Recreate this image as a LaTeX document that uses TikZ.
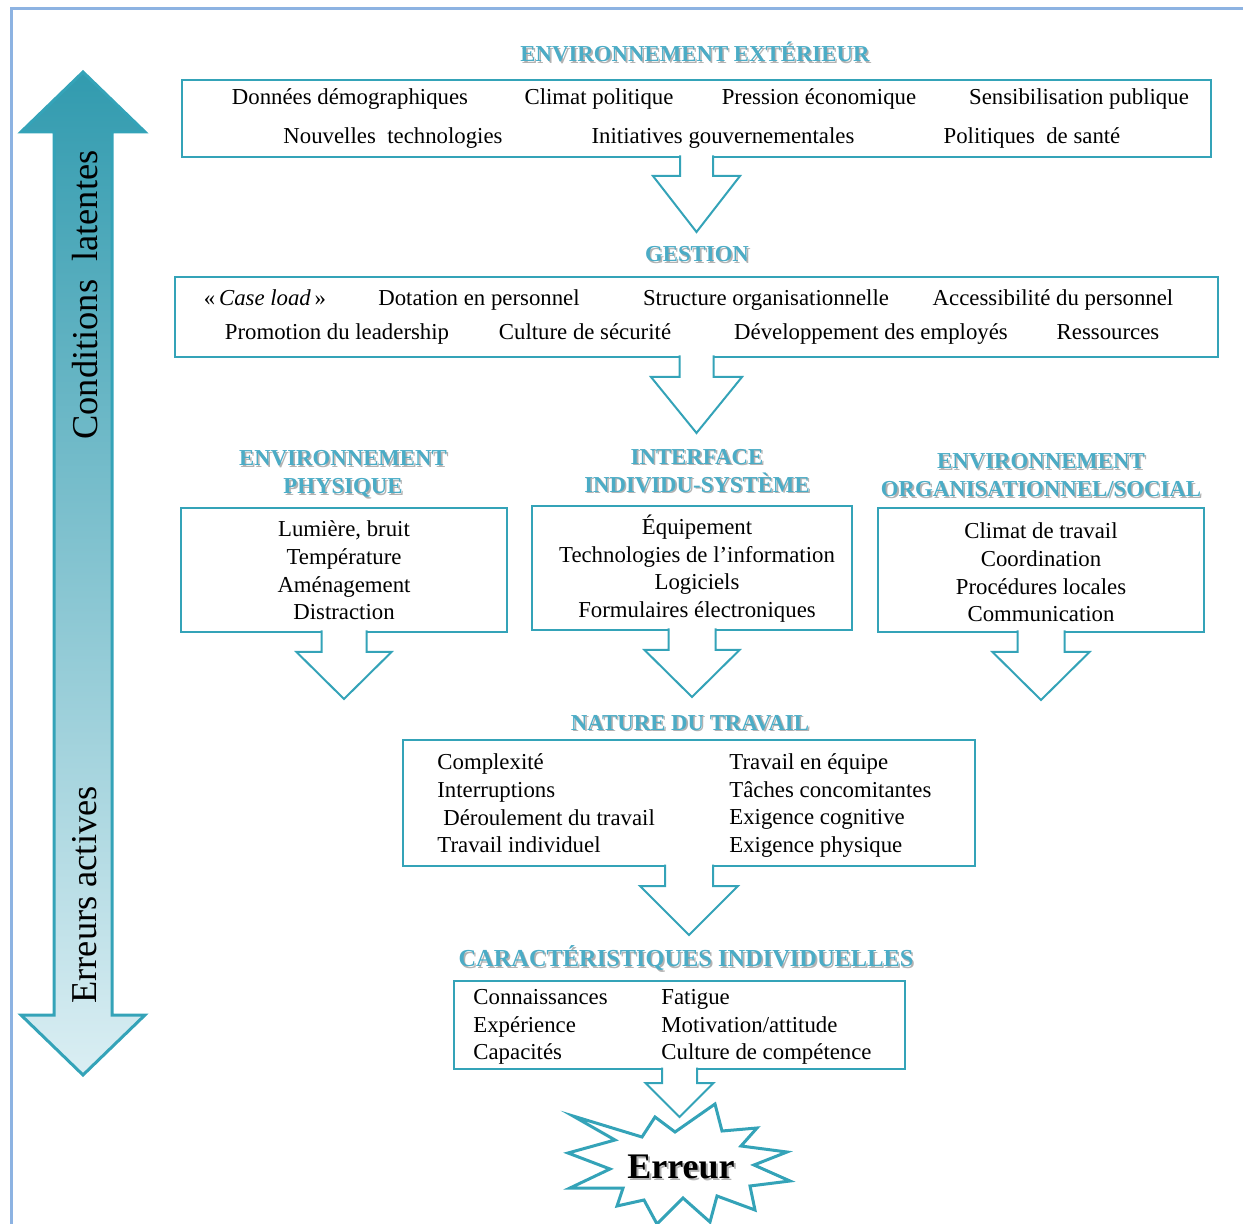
\documentclass[tikz,border=0pt]{standalone}
\usepackage{fontspec}
\setmainfont{Liberation Serif}
\usetikzlibrary{positioning}

\definecolor{turquoise}{RGB}{52,163,184}
\definecolor{titrebleu}{RGB}{75,172,198}
\definecolor{cadre}{RGB}{141,179,226}
\definecolor{pale}{RGB}{218,238,243}

\tikzset{
  boite/.style={draw=turquoise, line width=1pt, fill=white, inner sep=0pt, outer sep=0pt},
  txt/.style={font=\fontsize{11.4}{13.8}\selectfont, inner sep=0pt},
  ligne/.style={txt, text height=8.2pt, text depth=2.5pt},
  titre/.style={font=\fontsize{11.4}{14}\selectfont\bfseries, text=titrebleu, align=center, inner sep=0pt},
  ombre/.style={titre, text=black!30},
  fleche/.style={draw=turquoise, line width=1pt, fill=white, line join=miter},
}

% titre avec ombre: nom, position, texte
\newcommand{\titre}[3]{%
  \node[ombre] (#1o) at ([shift={(1.6,1.6)}]#2) {#3};
  \node[titre] (#1) at (#2) {#3};}

% fleche creuse sous une boite: boite, demi-tige, demi-tete, tige, tete
\newcommand{\fleche}[5]{%
  \draw[fleche] ([shift={(-#2,-1.5)}]#1.south) -- ([shift={(-#2,#4)}]#1.south)
    -- ([shift={(-#3,#4)}]#1.south) -- ([shift={(0,#4+#5)}]#1.south)
    -- ([shift={(#3,#4)}]#1.south) -- ([shift={(#2,#4)}]#1.south)
    -- ([shift={(#2,-1.5)}]#1.south);}

\begin{document}
\begin{tikzpicture}[x=0.5pt, y=-0.5pt]
  \useasboundingbox (0,0) rectangle (1243,1224);
  \draw[cadre, line width=1.5pt] (11,1224) -- (11,9) -- (1243,9);

  % double fleche a gauche
  \path[draw=turquoise, line width=1.5pt, top color=turquoise!95!black, bottom color=pale]
    (83,72) -- (145,132) -- (112,132) -- (112,1015) -- (145,1015) -- (83,1075)
    -- (21,1015) -- (54,1015) -- (54,132) -- (21,132) -- cycle;
  \node[rotate=90, font=\fontsize{18.2}{20}\selectfont, inner sep=0pt] (latentes) at (85,295) {Conditions\ \ latentes};
  \node[rotate=90, font=\fontsize{18.2}{20}\selectfont, inner sep=0pt] (actives) at (85,895) {Erreurs actives};

  % environnement exterieur
  \titre{text}{695,52}{ENVIRONNEMENT EXTÉRIEUR}
  \node[boite, minimum width=514.5pt, minimum height=38.5pt] (ext) at (696.5,118.5) {};
  \node[ligne] (e1) at (350,99) {Données démographiques};
  \node[ligne] (e2) at (599,99) {Climat politique};
  \node[ligne] (e3) at (819,99) {Pression économique};
  \node[ligne] (e4) at (1079,99) {Sensibilisation publique};
  \node[ligne] (e5) at (393,138) {Nouvelles\ \ technologies};
  \node[ligne] (e6) at (723,138) {Initiatives gouvernementales};
  \node[ligne] (e7) at (1032,138) {Politiques\ \ de santé};
  \fleche{ext}{16.5}{43.5}{19}{56}

  % gestion
  \titre{tgest}{697,254}{GESTION}
  \node[boite, minimum width=521.5pt, minimum height=40pt] (gest) at (696.5,317) {};
  \node[ligne] (g1) at (265,300) {«\,\textit{Case load}\,»};
  \node[ligne] (g2) at (479,300) {Dotation en personnel};
  \node[ligne] (g3) at (766,300) {Structure organisationnelle};
  \node[ligne] (g4) at (1053,300) {Accessibilité du personnel};
  \node[ligne] (g5) at (337,334) {Promotion du leadership};
  \node[ligne] (g6) at (585,334) {Culture de sécurité};
  \node[ligne] (g7) at (871,334) {Développement des employés};
  \node[ligne] (g8) at (1108,334) {Ressources};
  \fleche{gest}{17}{45.5}{20}{56}

  % trois environnements
  \titre{tphys}{343,474}{ENVIRONNEMENT\\PHYSIQUE}
  \node[boite, minimum width=163pt, minimum height=62pt] (phys) at (344,570) {};
  \node[txt, align=center] (physt) at (344,570.5) {Lumière, bruit\\Température\\Aménagement\\Distraction};
  \fleche{phys}{22.5}{47.5}{20}{47}

  \titre{tinter}{697,471}{INTERFACE\\INDIVIDU-SYSTÈME}
  \node[boite, minimum width=160pt, minimum height=62pt] (inter) at (692,568) {};
  \node[txt, align=center] (intert) at (697,568.5) {Équipement\\Technologies de l’information\\Logiciels\\Formulaires électroniques};
  \fleche{inter}{23.5}{47.5}{20}{47}

  \titre{torg}{1041,475}{ENVIRONNEMENT\\ORGANISATIONNEL/SOCIAL}
  \node[boite, minimum width=163pt, minimum height=62pt] (org) at (1041,570) {};
  \node[txt, align=center] (orgt) at (1041,572.5) {Climat de travail\\Coordination\\Procédures locales\\Communication};
  \fleche{org}{23.5}{48.5}{20}{48}

  % nature du travail
  \titre{tnature}{690,723}{NATURE DU TRAVAIL}
  \node[boite, minimum width=286pt, minimum height=63pt] (nature) at (689,803) {};
  \node[txt, align=left, anchor=west] (nat1) at (437,803.5) {Complexité\\Interruptions\\\hspace*{3pt}Déroulement du travail\\Travail individuel};
  \node[txt, align=left, anchor=west] (nat2) at (729,805.5) {Travail en équipe\\Tâches concomitantes\\Exigence cognitive\\Exigence physique};
  \fleche{nature}{24}{49}{20}{49}

  % caracteristiques individuelles
  \titre{tcaract}{686,958}{\fontsize{12.2}{14}\selectfont CARACTÉRISTIQUES INDIVIDUELLES}
  \node[boite, minimum width=225.5pt, minimum height=44pt] (caract) at (679.5,1025) {};
  \node[txt, align=left, anchor=west] (car1) at (473,1027) {Connaissances\\Expérience\\Capacités};
  \node[txt, align=left, anchor=west] (car2) at (661,1027) {Fatigue\\Motivation/attitude\\Culture de compétence};

  % erreur
  \draw[turquoise, line width=1.5pt, fill=white, line join=miter]
    (573,1116) -- (642,1137) -- (655,1117) -- (675,1132) -- (715,1104) -- (722,1131)
    -- (757,1128) -- (741,1146) -- (787,1152) -- (754,1165) -- (790,1181) -- (750,1186)
    -- (755,1210) -- (717,1196) -- (710,1222) -- (683,1198) -- (657,1224) -- (644,1200)
    -- (617,1206) -- (623,1188) -- (570,1188) -- (610,1169) -- (568,1153) -- (615,1140) -- cycle;
  \fleche{caract}{17.5}{34}{14}{34}
  \node[font=\fontsize{18}{20}\selectfont\bfseries, text=black!30, inner sep=0pt] (erreuro) at (683,1169) {Erreur};
  \node[font=\fontsize{18}{20}\selectfont\bfseries, inner sep=0pt] (erreur) at (681,1167) {Erreur};
\end{tikzpicture}
\end{document}
